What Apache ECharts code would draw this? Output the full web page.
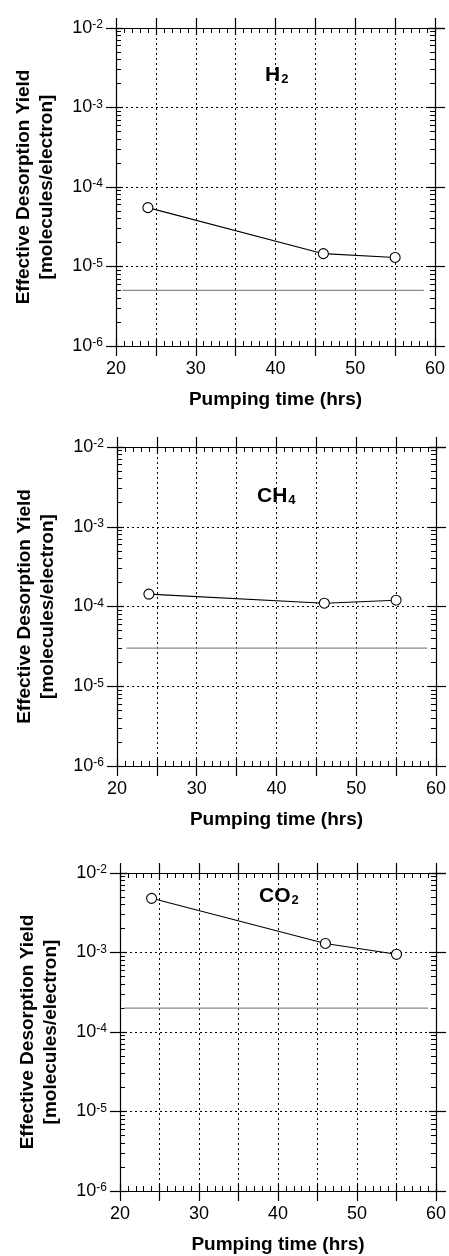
<!DOCTYPE html>
<html>
<head>
<meta charset="utf-8">
<script src="https://cdn.jsdelivr.net/npm/echarts@6/dist/echarts.min.js"></script>
<style>
html,body{margin:0;padding:0;background:#fff;}
#main{width:449px;height:1256px;}
</style>
</head>
<body>
<div id="main"></div>
<script>
// ---- data ----
const timeHours = [24, 46, 55];
const h2Yield = [5.5e-5, 1.45e-5, 1.3e-5];
const ch4Yield = [1.43e-4, 1.1e-4, 1.2e-4];
const co2Yield = [4.8e-3, 1.3e-3, 9.5e-4];
const refLevels = [5e-6, 3e-5, 2e-4];
const refStart = [20.8, 21.2, 20.5];
const refEnd = [58.6, 58.9, 59.0];
const gasNames = ['H', 'CH', 'CO'];
const gasSubs = ['2', '4', '2'];
const xTicks = [20, 30, 40, 50, 60];
const yDecades = [1e-6, 1e-5, 1e-4, 1e-3, 1e-2];
const minorMantissas = [2, 3, 4, 5, 6, 7, 8, 9];

// ---- layout ----
const FONT = '"Liberation Sans", Arial, Helvetica, sans-serif';
const grids = [
  {left: 116, right: 14, top: 28, height: 318},
  {left: 117, right: 12, top: 447, height: 319},
  {left: 120, right: 11, top: 873, height: 319}
];
const titlePos = [
  {left: 265, top: 65},
  {left: 257, top: 486},
  {left: 259, top: 886}
];

const minorY = [];
yDecades.slice(0, -1).forEach(d => minorMantissas.forEach(m => minorY.push(m * d)));

const black = '#000';
const xAxes = [], yAxes = [], series = [], titles = [];

grids.forEach((g, gi) => {
  const xb = {type: 'value', gridIndex: gi, min: 20, max: 60, interval: 5};
  const noLabel = {show: false};
  // bottom outer
  xAxes.push(Object.assign({}, xb, {
    position: 'bottom',
    axisLine: {show: true, onZero: false, lineStyle: {color: black, width: 1.2}},
    axisTick: {show: true, inside: false, length: 10, lineStyle: {color: black, width: 1.2}},
    axisLabel: {show: true, margin: 14, fontSize: 18, fontFamily: FONT, color: black,
      formatter: v => xTicks.indexOf(v) >= 0 ? String(v) : ''},
    splitLine: {show: true, lineStyle: {color: black, width: 1, type: [2, 3]}},
    name: 'Pumping time (hrs)', nameLocation: 'middle', nameGap: 44,
    nameTextStyle: {fontSize: 19, fontWeight: 'bold', fontFamily: FONT, color: black, lineHeight: 20}
  }));
  // bottom inner
  xAxes.push(Object.assign({}, xb, {
    position: 'bottom',
    axisLine: {show: false, onZero: false},
    axisTick: {show: true, inside: true, length: 7, lineStyle: {color: black, width: 1.2}},
    minorTick: {show: true, splitNumber: 5, length: 5, lineStyle: {color: black, width: 1}},
    axisLabel: noLabel, splitLine: {show: false}
  }));
  // top outer
  xAxes.push(Object.assign({}, xb, {
    position: 'top',
    axisLine: {show: true, onZero: false, lineStyle: {color: black, width: 1.2}},
    axisTick: {show: true, inside: false, length: 10, lineStyle: {color: black, width: 1.2}},
    axisLabel: noLabel, splitLine: {show: false}
  }));
  // top inner
  xAxes.push(Object.assign({}, xb, {
    position: 'top',
    axisLine: {show: false, onZero: false},
    axisTick: {show: true, inside: true, length: 7, lineStyle: {color: black, width: 1.2}},
    minorTick: {show: true, splitNumber: 5, length: 5, lineStyle: {color: black, width: 1}},
    axisLabel: noLabel, splitLine: {show: false}
  }));

  const yb = {type: 'log', logBase: 10, gridIndex: gi, min: 1e-6, max: 1e-2};
  // left outer
  yAxes.push(Object.assign({}, yb, {
    position: 'left',
    axisLine: {show: true, onZero: false, lineStyle: {color: black, width: 1.2}},
    axisTick: {show: true, inside: false, length: 10, lineStyle: {color: black, width: 1.2}},
    axisLabel: {show: true, margin: 13, fontSize: 18, fontFamily: FONT, color: black,
      formatter: v => '{b|10}{e|' + Math.round(Math.log10(v)) + '}',
      rich: {
        b: {fontSize: 18, fontFamily: FONT, color: black, verticalAlign: 'bottom', lineHeight: 18},
        e: {fontSize: 12, fontFamily: FONT, color: black, verticalAlign: 'top', lineHeight: 12, padding: [0, 0, 10, 0]}
      }
    },
    splitLine: {show: true, lineStyle: {color: black, width: 1, type: [2, 3]}},
    name: 'Effective Desorption Yield\n[molecules/electron]', nameLocation: 'middle', nameRotate: 90, nameGap: 58,
    nameTextStyle: {fontSize: 19, fontWeight: 'bold', fontFamily: FONT, color: black, lineHeight: 23}
  }));
  // left inner major
  yAxes.push(Object.assign({}, yb, {
    position: 'left',
    axisLine: {show: false, onZero: false},
    axisTick: {show: true, inside: true, length: 7, lineStyle: {color: black, width: 1.2}},
    axisLabel: noLabel, splitLine: {show: false}
  }));
  // left inner minor
  yAxes.push(Object.assign({}, yb, {
    position: 'left',
    axisLine: {show: false, onZero: false},
    axisTick: {show: true, inside: true, length: 5, customValues: minorY, lineStyle: {color: black, width: 1}},
    axisLabel: noLabel, splitLine: {show: false}
  }));
  // right outer
  yAxes.push(Object.assign({}, yb, {
    position: 'right',
    axisLine: {show: true, onZero: false, lineStyle: {color: black, width: 1.2}},
    axisTick: {show: true, inside: false, length: 10, lineStyle: {color: black, width: 1.2}},
    axisLabel: noLabel, splitLine: {show: false}
  }));
  // right inner major
  yAxes.push(Object.assign({}, yb, {
    position: 'right',
    axisLine: {show: false, onZero: false},
    axisTick: {show: true, inside: true, length: 7, lineStyle: {color: black, width: 1.2}},
    axisLabel: noLabel, splitLine: {show: false}
  }));
  // right inner minor
  yAxes.push(Object.assign({}, yb, {
    position: 'right',
    axisLine: {show: false, onZero: false},
    axisTick: {show: true, inside: true, length: 5, customValues: minorY, lineStyle: {color: black, width: 1}},
    axisLabel: noLabel, splitLine: {show: false}
  }));

  const vals = [h2Yield, ch4Yield, co2Yield][gi];
  series.push({
    type: 'line', xAxisIndex: gi * 4, yAxisIndex: gi * 6,
    data: timeHours.map((t, i) => [t, vals[i]]),
    symbol: 'circle', symbolSize: 10,
    itemStyle: {color: '#fff', borderColor: black, borderWidth: 1.1},
    lineStyle: {color: black, width: 1.1},
    z: 5, animation: false
  });
  series.push({
    type: 'line', xAxisIndex: gi * 4, yAxisIndex: gi * 6,
    data: [[refStart[gi], refLevels[gi]], [refEnd[gi], refLevels[gi]]],
    symbol: 'none',
    lineStyle: {color: '#8a8a8a', width: 1.3},
    z: 4, animation: false
  });

  titles.push({
    text: '{m|' + gasNames[gi] + '}{s|' + gasSubs[gi] + '}',
    left: titlePos[gi].left, top: titlePos[gi].top, padding: 0,
    textStyle: {
      fontSize: 21, fontWeight: 'bold', fontFamily: FONT, color: black,
      rich: {
        m: {fontSize: 21, fontWeight: 'bold', fontFamily: FONT, color: black, lineHeight: 21, verticalAlign: 'top'},
        s: {fontSize: 13, fontWeight: 'bold', fontFamily: FONT, color: black, lineHeight: 13, verticalAlign: 'bottom', padding: [19, 0, 0, 1]}
      }
    }
  });
});

const chart = echarts.init(document.getElementById('main'), null, {renderer: 'canvas'});
chart.setOption({
  backgroundColor: '#fff',
  animation: false,
  title: titles,
  grid: grids,
  xAxis: xAxes,
  yAxis: yAxes,
  series: series
});
</script>
</body>
</html>
